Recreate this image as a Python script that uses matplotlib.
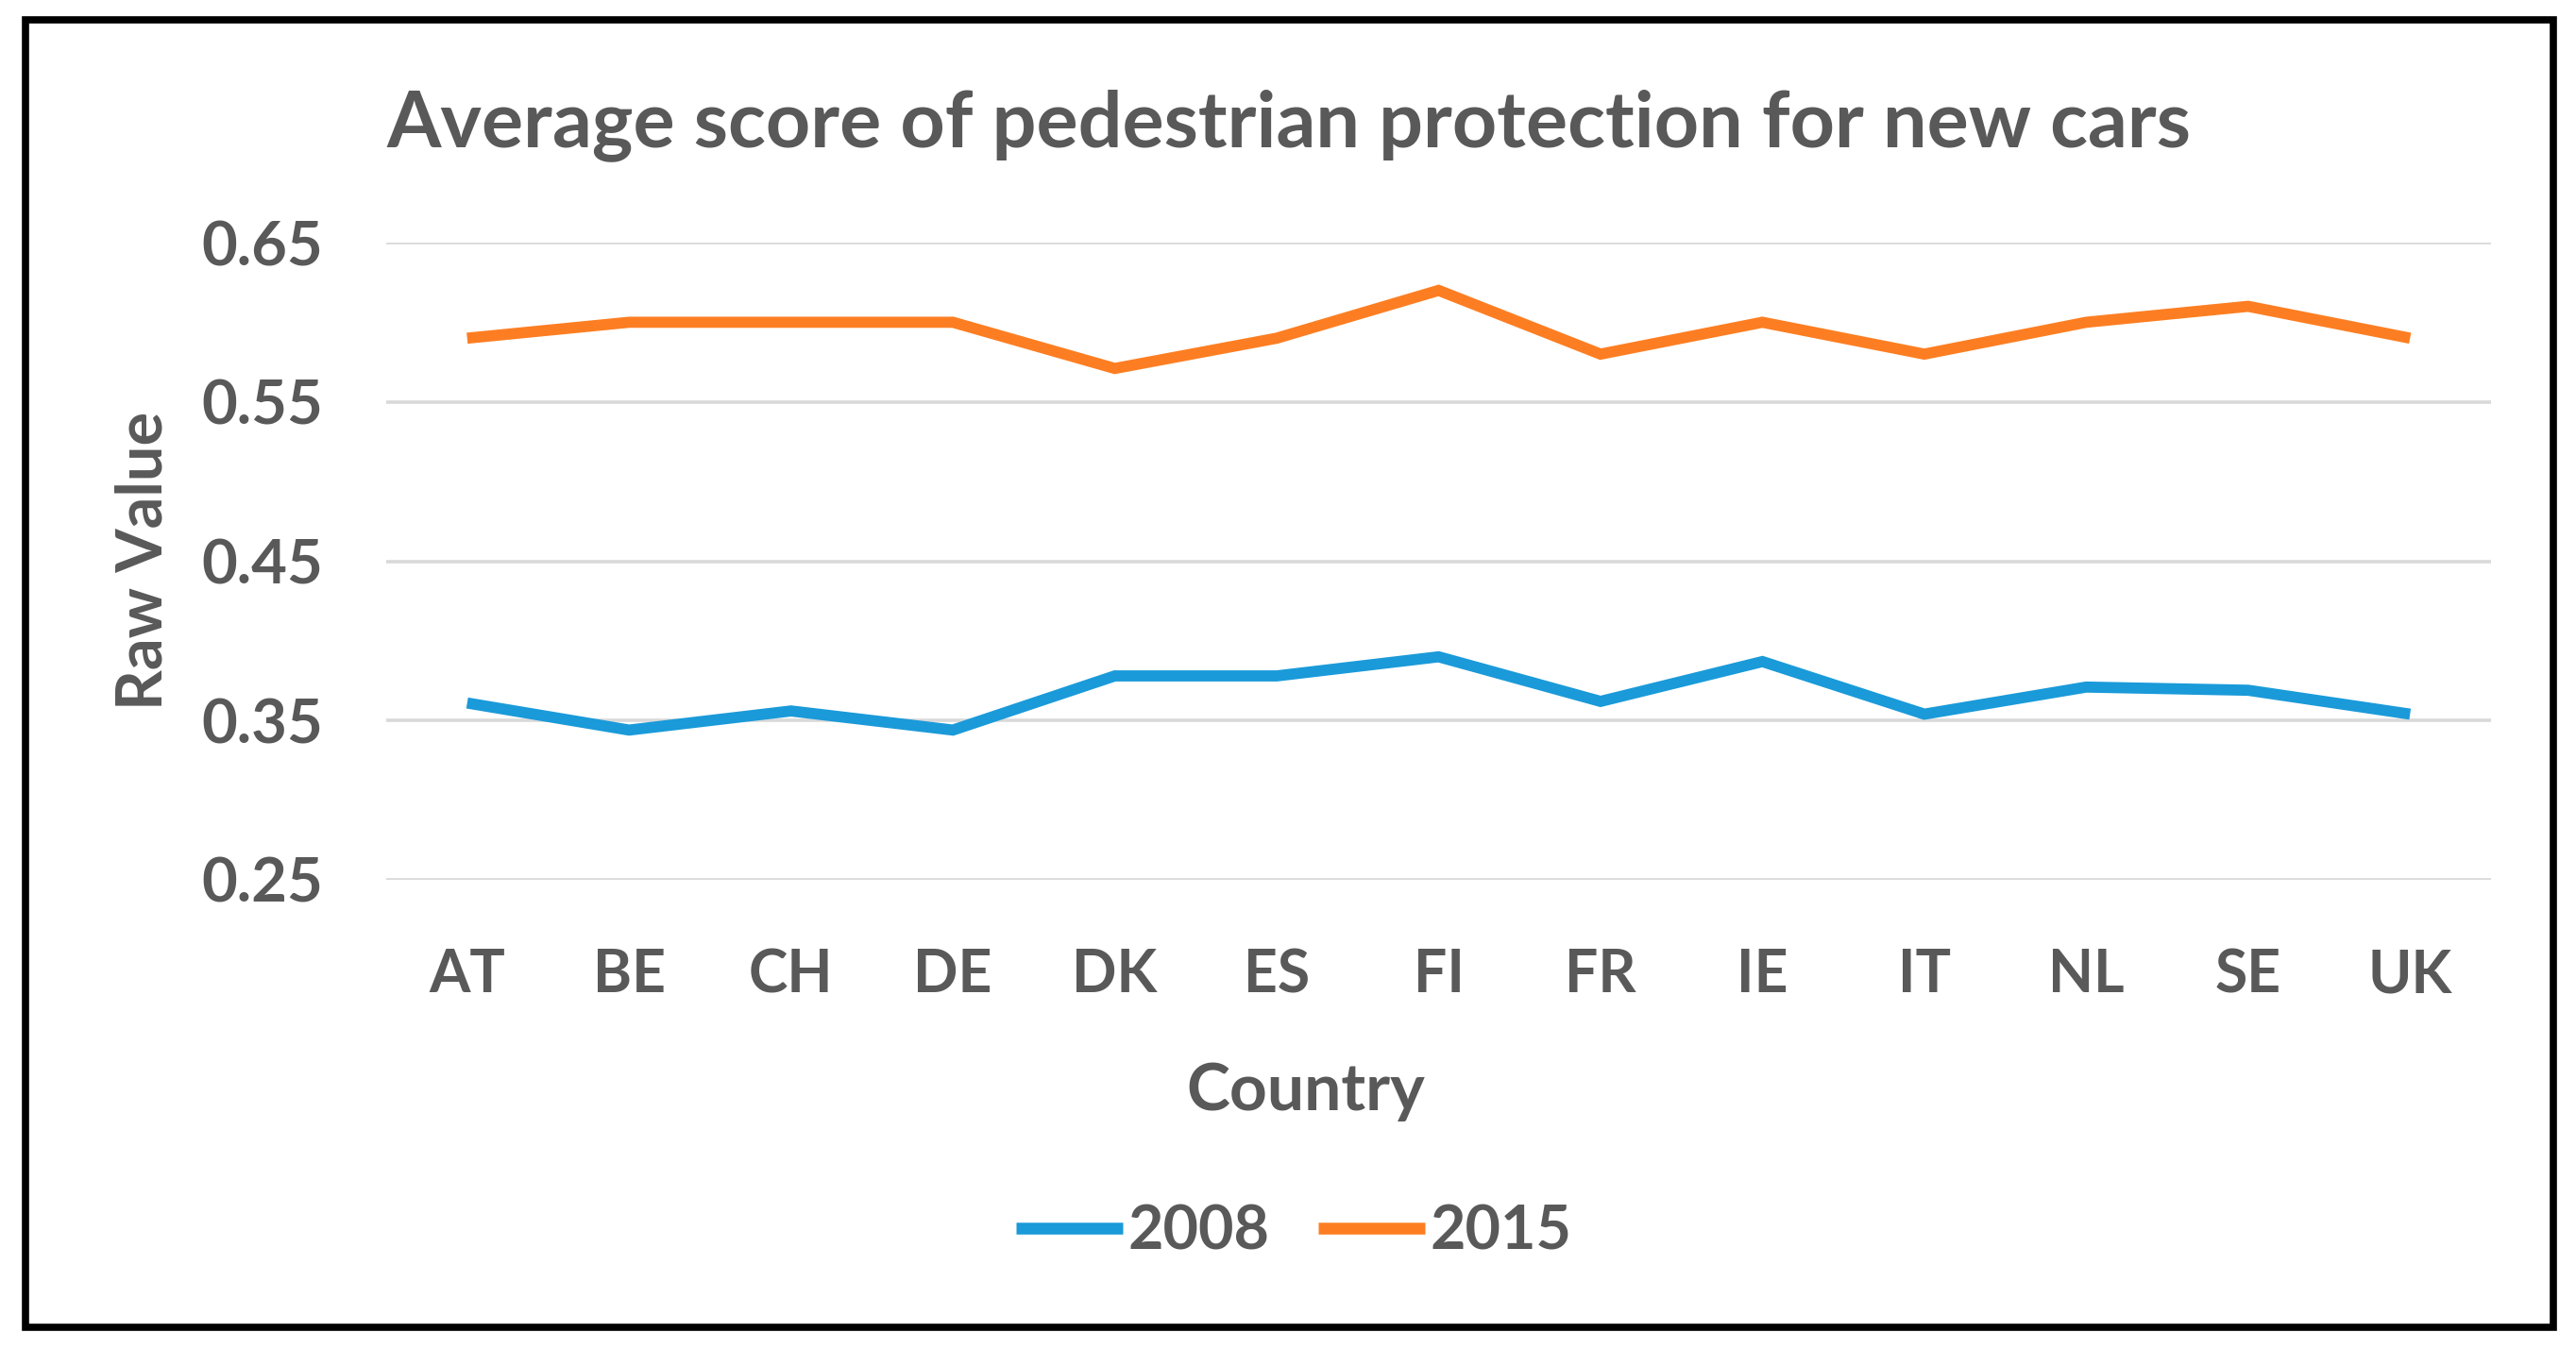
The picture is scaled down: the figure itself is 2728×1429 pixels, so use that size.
import matplotlib
matplotlib.use("Agg")
import matplotlib.pyplot as plt
from matplotlib.patches import Rectangle

countries = ["AT", "BE", "CH", "DE", "DK", "ES", "FI", "FR", "IE", "IT", "NL", "SE", "UK"]
values_2008 = [0.361, 0.344, 0.356, 0.344, 0.378, 0.378, 0.390, 0.362, 0.387, 0.354, 0.371, 0.369, 0.354]
values_2015 = [0.590, 0.600, 0.600, 0.600, 0.571, 0.590, 0.620, 0.580, 0.600, 0.580, 0.600, 0.610, 0.590]
y_ticks = [0.25, 0.35, 0.45, 0.55, 0.65]
y_tick_labels = ["0.25", "0.35", "0.45", "0.55", "0.65"]

BLUE = "#1A9AD9"
ORANGE = "#FD7E22"
TEXT = "#595959"
GRID = "#D9D9D9"

plt.rcParams["font.family"] = ["Lato", "DejaVu Sans"]
plt.rcParams["font.weight"] = "bold"

W, H = 2728, 1429
fig = plt.figure(figsize=(W / 100, H / 100), dpi=100)
fig.patch.set_facecolor("white")

ax = fig.add_axes([409 / W, 1 - 932 / H, (2638 - 409) / W, (932 - 257) / H])
x = list(range(len(countries)))
ax.plot(x, values_2008, color=BLUE, lw=8.5, label="2008", solid_joinstyle="miter", solid_capstyle="butt", zorder=3)
ax.plot(x, values_2015, color=ORANGE, lw=8.5, label="2015", solid_joinstyle="miter", solid_capstyle="butt", zorder=3)

ax.set_xlim(-0.5, len(countries) - 0.5)
ax.set_ylim(0.25, 0.65)
ax.set_yticks(y_ticks)
ax.set_yticklabels(y_tick_labels)
ax.set_xticks(x)
ax.set_xticklabels(countries)
ax.grid(axis="y", color=GRID, lw=2.6, zorder=0)
ax.set_axisbelow(True)
for s in ax.spines.values():
    s.set_visible(False)
ax.tick_params(axis="both", length=0, labelcolor=TEXT)
ax.tick_params(axis="y", pad=48, labelsize=47)
ax.tick_params(axis="x", pad=52, labelsize=45)
for lab in ax.get_xticklabels() + ax.get_yticklabels():
    lab.set_fontweight("bold")

fig.text(0.5004, 1 - 155 / H, "Average score of pedestrian protection for new cars",
         ha="center", va="baseline", fontsize=59.5, color=TEXT, fontweight="bold")
fig.text(152 / W, 1 - 594 / H, "Raw Value", rotation=90, ha="center", va="center",
         fontsize=48, color=TEXT, fontweight="bold")
fig.text(1383 / W, 1 - 1176 / H, "Country", ha="center", va="baseline",
         fontsize=50, color=TEXT, fontweight="bold")

leg = fig.legend(loc="center", bbox_to_anchor=(1370 / W, 1 - 1305 / H), ncol=2, frameon=False,
                 fontsize=46.5, handlelength=1.75, handletextpad=0.08, columnspacing=0.8,
                 labelcolor=TEXT)
for line in leg.get_lines():
    line.set_linewidth(9)
for t in leg.get_texts():
    t.set_fontweight("bold")

# chart frame
fig.add_artist(Rectangle((28 / W, 1 - 1405 / H), (2703 - 28) / W, (1405 - 23) / H,
                         transform=fig.transFigure, fill=False, edgecolor="#D6D6D6", lw=2.5))
fig.add_artist(Rectangle((27 / W, 1 - 1406 / H), (2704 - 27) / W, (1406 - 21) / H,
                         transform=fig.transFigure, fill=False, edgecolor="black", lw=5.5))

fig.savefig("out.png", dpi=100, facecolor="white")
